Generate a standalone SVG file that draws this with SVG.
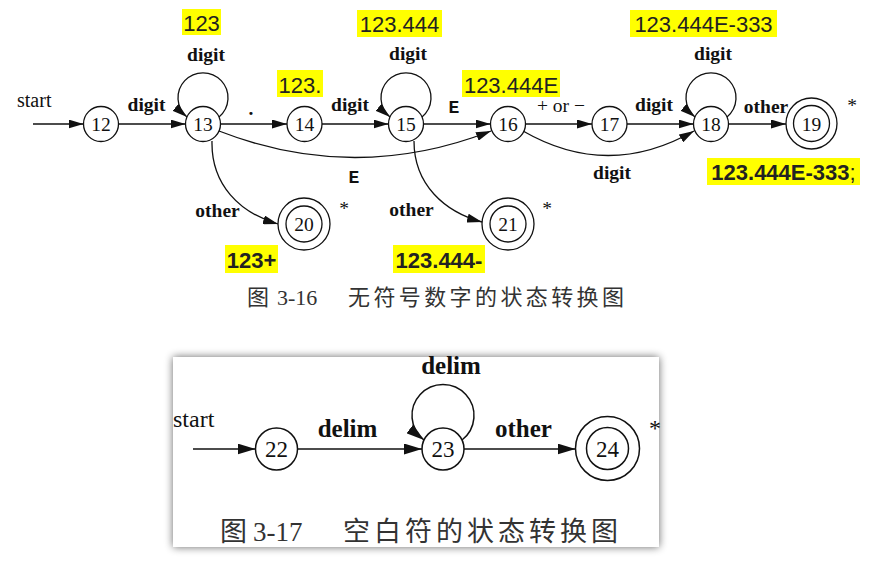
<svg xmlns="http://www.w3.org/2000/svg" width="874" height="570" viewBox="0 0 874 570">
<defs>
<marker id="ah" viewBox="0 0 15 9" refX="15" refY="4.5" markerWidth="15" markerHeight="9" orient="auto" markerUnits="userSpaceOnUse"><path d="M0,0 L15,4.5 L0,9 z" fill="#111"/></marker>
<marker id="ah2" viewBox="0 0 18 11" refX="18" refY="5.5" markerWidth="18" markerHeight="11" orient="auto" markerUnits="userSpaceOnUse"><path d="M0,0 L18,5.5 L0,11 z" fill="#111"/></marker>
<filter id="sh" x="-10%" y="-15%" width="120%" height="130%"><feGaussianBlur in="SourceAlpha" stdDeviation="4"/><feComponentTransfer><feFuncA type="linear" slope="0.6"/></feComponentTransfer><feMerge><feMergeNode/><feMergeNode in="SourceGraphic"/></feMerge></filter>
</defs>
<style>
.n{fill:#fff;stroke:#111;stroke-width:1.3}
.n2{fill:#fff;stroke:#111;stroke-width:1.5}
.e{fill:none;stroke:#111;stroke-width:1.3;marker-end:url(#ah)}
.e2{fill:none;stroke:#111;stroke-width:1.5;marker-end:url(#ah2)}
.num{font-family:"Liberation Serif",serif;font-size:19.5px;fill:#111;text-anchor:middle}
.num2{font-family:"Liberation Serif",serif;font-size:23px;fill:#111;text-anchor:middle}
.lb{font-family:"Liberation Serif",serif;font-size:19.5px;font-weight:bold;fill:#111;text-anchor:middle}
.lb2{font-family:"Liberation Serif",serif;font-size:25px;font-weight:bold;fill:#111;text-anchor:middle}
.lr{font-family:"Liberation Serif",serif;font-size:19.5px;fill:#111;text-anchor:middle}
.mono{font-family:"Liberation Mono",monospace;font-size:18px;font-weight:bold;fill:#111;text-anchor:middle}
.hl{fill:#ffff00}
.ht{font-family:"Liberation Sans",Arial,sans-serif;font-size:22px;fill:#222;text-anchor:middle}
.htb{font-family:"Liberation Sans",Arial,sans-serif;font-size:22px;font-weight:bold;fill:#222;text-anchor:middle}
.cap{font-family:"Liberation Serif","Noto Sans CJK SC",serif;fill:#333}
</style>
<rect width="874" height="570" fill="#fff"/>

<!-- bottom panel background -->
<rect x="173" y="357" width="486" height="190" fill="#fff" filter="url(#sh)"/>

<g id="connectors">
<path class="e" d="M33,124 L83.5,124"/>
<path class="e" d="M118.5,124 L185.5,124"/>
<path class="e" d="M220.5,124 L287,124"/>
<path class="e" d="M322,124 L388.5,124"/>
<path class="e" d="M423.5,124 L490.5,124"/>
<path class="e" d="M525.5,124 L592,124"/>
<path class="e" d="M627,124 L693.5,124"/>
<path class="e" d="M728.5,124 L786,124"/>
<path class="e" d="M219,117 A25,25 0 1,0 187,117"/>
<path class="e" d="M422,117 A25,25 0 1,0 390,117"/>
<path class="e" d="M727,117 A25,25 0 1,0 695,117"/>
<path class="e" d="M219,131 Q355,184 491,131"/>
<path class="e" d="M523,131 Q608,180 694,131"/>
<path class="e" d="M212,141 C211,185 240,213 278,224"/>
<path class="e" d="M414,141 C414,185 445,212 482,222"/>
<path class="e2" d="M193,449 L255.5,449"/>
<path class="e2" d="M297.5,449 L422,449"/>
<path class="e2" d="M464,449 L575.5,449"/>
<path class="e2" d="M462,440 A31,31 0 1,0 424,440"/>
</g>

<g id="n12"><circle class="n" cx="101" cy="124" r="17.5"/><text class="num" x="101" y="131">12</text></g>
<g id="n13"><circle class="n" cx="203" cy="124" r="17.5"/><text class="num" x="203" y="131">13</text></g>
<g id="n14"><circle class="n" cx="304.5" cy="124" r="17.5"/><text class="num" x="304.5" y="131">14</text></g>
<g id="n15"><circle class="n" cx="406" cy="124" r="17.5"/><text class="num" x="406" y="131">15</text></g>
<g id="n16"><circle class="n" cx="508" cy="124" r="17.5"/><text class="num" x="508" y="131">16</text></g>
<g id="n17"><circle class="n" cx="609.5" cy="124" r="17.5"/><text class="num" x="609.5" y="131">17</text></g>
<g id="n18"><circle class="n" cx="711" cy="124" r="17.5"/><text class="num" x="711" y="131">18</text></g>
<g id="n19"><circle class="n" cx="811.5" cy="123.5" r="25.5"/><circle class="n" cx="811.5" cy="123.5" r="18"/><text class="num" x="811.5" y="130.5">19</text></g>
<g id="n20"><circle class="n" cx="304" cy="224" r="26"/><circle class="n" cx="304" cy="224" r="18"/><text class="num" x="304" y="231">20</text></g>
<g id="n21"><circle class="n" cx="508" cy="224" r="26"/><circle class="n" cx="508" cy="224" r="18"/><text class="num" x="508" y="231">21</text></g>
<g id="n22"><circle class="n2" cx="276.5" cy="449" r="21"/><text class="num2" x="276.5" y="457">22</text></g>
<g id="n23"><circle class="n2" cx="443" cy="449" r="21"/><text class="num2" x="443" y="457">23</text></g>
<g id="n24"><circle class="n2" cx="607.5" cy="448.5" r="32"/><circle class="n2" cx="607.5" cy="448.5" r="21"/><text class="num2" x="607.5" y="456.5">24</text></g>

<g id="edge-labels">
<text x="17" y="107" style="font-family:'Liberation Serif',serif;font-size:20px;fill:#111">start</text>
<text class="lb" x="146.5" y="111">digit</text>
<text class="lb" x="206" y="61">digit</text>
<text class="lb" x="251" y="115">.</text>
<text class="lb" x="350" y="111">digit</text>
<text class="lb" x="408" y="60">digit</text>
<text class="mono" x="454" y="113">E</text>
<text class="lr" x="561" y="112">+ or −</text>
<text class="lb" x="654" y="111">digit</text>
<text class="lb" x="713" y="60">digit</text>
<text class="lb" x="766" y="113">other</text>
<text class="lr" x="852" y="112">*</text>
<text class="mono" x="354" y="183">E</text>
<text class="lb" x="612" y="179">digit</text>
<text class="lb" x="217.5" y="217">other</text>
<text class="lr" x="344" y="215">*</text>
<text class="lb" x="411.5" y="216">other</text>
<text class="lr" x="547" y="215">*</text>
<text x="173" y="427" style="font-family:'Liberation Serif',serif;font-size:24px;fill:#111">start</text>
<text class="lb2" x="347.5" y="437">delim</text>
<text class="lb2" x="451" y="374">delim</text>
<text class="lb2" x="523.5" y="437">other</text>
<text x="655" y="436" style="font-family:'Liberation Serif',serif;font-size:24px;fill:#111;text-anchor:middle">*</text>
</g>

<g id="highlights">
<rect class="hl" x="182" y="9" width="39" height="26"/><text class="ht" x="201.5" y="30.5">123</text>
<rect class="hl" x="357" y="10" width="85" height="27"/><text class="ht" x="399.5" y="31.5">123.444</text>
<rect class="hl" x="630" y="10" width="147" height="27"/><text class="ht" x="703.5" y="31.5">123.444E-333</text>
<rect class="hl" x="277" y="70" width="46" height="27"/><text class="ht" x="300" y="92.5">123.</text>
<rect class="hl" x="462" y="70" width="98" height="27"/><text class="ht" x="511" y="92.5">123.444E</text>
<rect class="hl" x="707" y="158" width="153" height="27"/><text class="htb" x="783.5" y="180">123.444E-333<tspan font-weight="normal">;</tspan></text>
<rect class="hl" x="225" y="245" width="53" height="28"/><text class="htb" x="251.5" y="268">123+</text>
<rect class="hl" x="393" y="245" width="92" height="28"/><text class="htb" x="439" y="268">123.444-</text>
</g>

<g id="captions">
<text class="cap" y="305" style="font-size:22px"><tspan x="247">图</tspan><tspan x="277">3-16</tspan><tspan x="348" style="letter-spacing:3.4px">无符号数字的状态转换图</tspan></text>
<text class="cap" y="541" style="font-size:27px"><tspan x="220">图</tspan><tspan x="253">3-17</tspan><tspan x="343" style="letter-spacing:4px">空白符的状态转换图</tspan></text>
</g>
</svg>
